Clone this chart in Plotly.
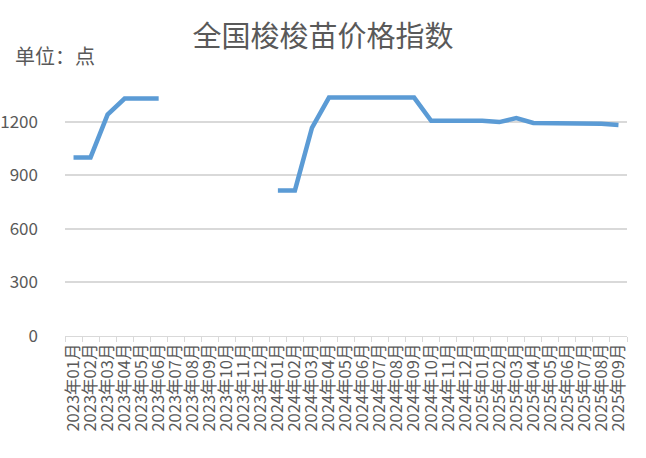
import plotly.graph_objects as go

# months on the x axis
months = [f"{y}年{m:02d}月" for y in (2023, 2024, 2025) for m in range(1, 13)][:33]

# index values, gaps where no data (2023-07 .. 2023-12)
index_2023 = [1000, 1000, 1240, 1330, 1330, 1330, None, None, None, None, None, None]
index_2024 = [815, 815, 1165, 1335, 1335, 1335, 1335, 1335, 1335, 1205, 1205, 1205]
index_2025 = [1205, 1198, 1220, 1193, 1193, 1193, 1193, 1188, 1182]
values = index_2023 + index_2024 + index_2025

y_ticks = [0, 300, 600, 900, 1200]

grey = "#595959"
font_cn = "Noto Sans CJK SC"

fig = go.Figure()
fig.add_trace(go.Scatter(x=months, y=values, mode="lines",
                         line=dict(color="#5b9bd5", width=4.5),
                         connectgaps=False, showlegend=False))

fig.update_layout(
    width=646, height=458,
    margin=dict(l=64.5, r=18.5, t=86, b=122, autoexpand=False),
    paper_bgcolor="white", plot_bgcolor="white",
    font=dict(family=font_cn, color=grey, size=16),
    title=dict(text="全国梭梭苗价格指数", x=0.5, xref="container", xanchor="center",
               y=1 - 37 / 458, yref="container", yanchor="middle",
               font=dict(size=29, color=grey, family=font_cn)),
)
fig.add_annotation(text="单位：点", xref="paper", yref="paper",
                   x=-52.5 / 563, xanchor="left", y=(336 - 56) / 250, yanchor="middle",
                   showarrow=False, font=dict(size=20, color=grey, family=font_cn))

fig.update_xaxes(type="category", range=[-0.5, len(months) - 0.5],
                 tickmode="array", tickvals=months, ticktext=months,
                 tickangle=-90, tickfont=dict(size=16.5, color=grey), automargin=False,
                 showline=True, linecolor="#d9d9d9", linewidth=1,
                 ticks="outside", tickson="boundaries", ticklen=5, tickcolor="#d9d9d9",
                 showgrid=False)
fig.update_yaxes(range=[0, 1400], tickvals=y_ticks, tickfont=dict(size=17, color=grey),
                 showgrid=True, gridcolor="#d9d9d9", gridwidth=1.5, automargin=False,
                 zeroline=False, showline=False, ticklabelstandoff=26)

# drop the default page margin so the figure sits at the window corner
fig.write_html("out.html", config={"displayModeBar": False},
               post_script="document.body.style.margin='0px';")
